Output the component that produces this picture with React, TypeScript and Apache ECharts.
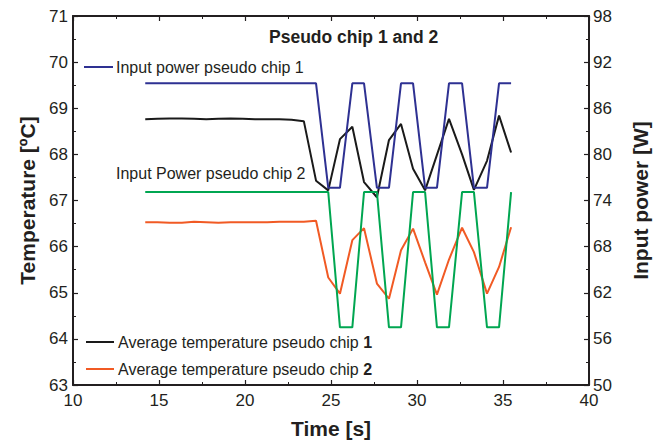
import React, { useEffect, useRef } from "react";
import * as echarts from "echarts";

// Sample times [s]
const times = [
  14.2, 14.91, 15.62, 16.33, 17.04, 17.75, 18.45, 19.16, 19.87, 20.58, 21.29,
  22.0, 22.71, 23.42, 24.13, 24.84, 25.52, 26.24, 26.92, 27.67, 28.37, 29.07,
  29.77, 30.47, 31.16, 31.86, 32.62, 33.31, 34.07, 34.77, 35.47,
];

// Input power [W]
const powerChip1 = [
  89.25, 89.25, 89.25, 89.25, 89.25, 89.25, 89.25, 89.25, 89.25, 89.25, 89.25,
  89.25, 89.25, 89.25, 89.25, 75.65, 75.65, 89.25, 89.25, 75.65, 75.65, 89.25,
  89.25, 75.65, 75.65, 89.25, 89.25, 75.65, 75.65, 89.25, 89.25,
];
const powerChip2 = [
  75.1, 75.1, 75.1, 75.1, 75.1, 75.1, 75.1, 75.1, 75.1, 75.1, 75.1,
  75.1, 75.1, 75.1, 75.1, 75.1, 57.5, 57.5, 75.1, 75.1, 57.5, 57.5,
  75.1, 75.1, 57.5, 57.5, 75.1, 75.1, 57.5, 57.5, 75.1,
];

// Average temperature [ºC]
const tempChip1 = [
  68.76, 68.77, 68.78, 68.78, 68.77, 68.76, 68.77, 68.78, 68.77, 68.76, 68.76,
  68.76, 68.75, 68.72, 67.43, 67.22, 68.33, 68.6, 67.4, 67.07, 68.31, 68.66,
  67.69, 67.22, 67.99, 68.77, 68.0, 67.23, 67.86, 68.84, 68.04,
];
const tempChip2 = [
  66.53, 66.53, 66.52, 66.52, 66.54, 66.53, 66.52, 66.53, 66.53, 66.53, 66.53,
  66.54, 66.54, 66.54, 66.56, 65.33, 64.98, 66.14, 66.4, 65.2, 64.87, 65.92,
  66.39, 65.66, 64.96, 65.72, 66.41, 65.88, 64.98, 65.56, 66.42,
];

const powerTicks = [50, 56, 62, 68, 74, 80, 86, 92, 98];

const FONT = '"Liberation Sans", Arial, Helvetica, sans-serif';
const INK = "#231f20";
const BLUE = "#2e3192";
const GREEN = "#00a651";
const BLACK = "#1a1a1a";
const ORANGE = "#f15a24";

const pairs = (ys: number[]) => times.map((t, i) => [t, ys[i]]);

export default function App() {
  const ref = useRef<HTMLDivElement>(null);
  useEffect(() => {
    document.body.style.margin = "0";
    if (!ref.current) return;
    const chart = echarts.init(ref.current, null, { renderer: "svg" });
    const axisLine = { show: true, lineStyle: { color: INK, width: 2 } };
    const tick = { show: true, inside: true, length: 5, lineStyle: { color: INK, width: 1.2 } };
    const minor = { show: true, splitNumber: 2, length: 3, lineStyle: { color: INK, width: 1 } };
    const labelStyle = { color: INK, fontSize: 17, fontFamily: FONT };
    const nameStyle = { color: INK, fontSize: 21, fontWeight: "bold" as const, fontFamily: FONT };
    chart.setOption({
      animation: false,
      backgroundColor: "#ffffff",
      title: {
        text: "Pseudo chip 1 and 2",
        left: 264,
        top: 23,
        textStyle: { color: INK, fontSize: 17.5, fontWeight: "bold", fontFamily: FONT },
      },
      grid: { left: 73, right: 70, top: 16, bottom: 60, containLabel: false },
      xAxis: [
        {
          type: "value",
          position: "bottom",
          min: 10,
          max: 40,
          interval: 5,
          axisLine,
          axisTick: tick,
          minorTick: minor,
          splitLine: { show: false },
          axisLabel: { ...labelStyle, margin: 7 },
          name: "Time [s]",
          nameLocation: "middle",
          nameGap: 33,
          nameTextStyle: nameStyle,
        },
        {
          type: "value",
          position: "top",
          min: 10,
          max: 40,
          interval: 5,
          axisLine,
          axisTick: tick,
          minorTick: minor,
          splitLine: { show: false },
          axisLabel: { show: false },
        },
      ],
      yAxis: [
        {
          type: "value",
          position: "left",
          min: 63,
          max: 71,
          interval: 1,
          axisLine,
          axisTick: tick,
          minorTick: minor,
          splitLine: { show: false },
          axisLabel: { ...labelStyle, margin: 5 },
          name: "Temperature [ºC]",
          nameLocation: "middle",
          nameRotate: 90,
          nameGap: 34,
          nameTextStyle: nameStyle,
        },
        {
          type: "value",
          position: "right",
          min: 50,
          max: 98,
          axisLine: { show: false },
          axisTick: { show: false },
          splitLine: { show: false },
          axisLabel: { ...labelStyle, margin: 4, customValues: powerTicks },
          name: "Input power [W]",
          nameLocation: "middle",
          nameRotate: 90,
          nameGap: 41,
          nameTextStyle: nameStyle,
        },
        {
          type: "value",
          position: "right",
          min: 63,
          max: 71,
          interval: 1,
          axisLine,
          axisTick: tick,
          minorTick: minor,
          splitLine: { show: false },
          axisLabel: { show: false },
        },
      ],
      graphic: [
        { type: "line", shape: { x1: 84, y1: 67, x2: 113, y2: 67 }, style: { stroke: BLUE, lineWidth: 2 } },
        {
          type: "text",
          x: 116,
          y: 67,
          style: { text: "Input power pseudo chip 1", fill: INK, fontSize: 16, fontFamily: FONT, verticalAlign: "middle" },
        },
        {
          type: "text",
          x: 116,
          y: 173,
          style: { text: "Input Power pseudo chip 2", fill: INK, fontSize: 16, fontFamily: FONT, verticalAlign: "middle" },
        },
        { type: "line", shape: { x1: 86, y1: 342, x2: 114, y2: 342 }, style: { stroke: BLACK, lineWidth: 2 } },
        {
          type: "text",
          x: 118,
          y: 342,
          style: {
            text: "{a|Average temperature pseudo chip }{b|1}",
            verticalAlign: "middle",
            rich: {
              a: { fill: INK, fontSize: 16, fontFamily: FONT },
              b: { fill: INK, fontSize: 16, fontFamily: FONT, fontWeight: "bold" },
            },
          },
        },
        { type: "line", shape: { x1: 86, y1: 369, x2: 114, y2: 369 }, style: { stroke: ORANGE, lineWidth: 2 } },
        {
          type: "text",
          x: 118,
          y: 369,
          style: {
            text: "{a|Average temperature pseudo chip }{b|2}",
            verticalAlign: "middle",
            rich: {
              a: { fill: INK, fontSize: 16, fontFamily: FONT },
              b: { fill: INK, fontSize: 16, fontFamily: FONT, fontWeight: "bold" },
            },
          },
        },
      ],
      series: [
        {
          name: "Average temperature pseudo chip 2",
          type: "line",
          yAxisIndex: 0,
          data: pairs(tempChip2),
          showSymbol: false,
          lineStyle: { color: ORANGE, width: 2 },
          itemStyle: { color: ORANGE },
        },
        {
          name: "Average temperature pseudo chip 1",
          type: "line",
          yAxisIndex: 0,
          data: pairs(tempChip1),
          showSymbol: false,
          lineStyle: { color: BLACK, width: 2 },
          itemStyle: { color: BLACK },
        },
        {
          name: "Input Power pseudo chip 2",
          type: "line",
          yAxisIndex: 1,
          data: pairs(powerChip2),
          showSymbol: false,
          lineStyle: { color: GREEN, width: 2 },
          itemStyle: { color: GREEN },
        },
        {
          name: "Input power pseudo chip 1",
          type: "line",
          yAxisIndex: 1,
          data: pairs(powerChip1),
          showSymbol: false,
          lineStyle: { color: BLUE, width: 2 },
          itemStyle: { color: BLUE },
        },
      ],
    });
    return () => chart.dispose();
  }, []);
  return <div ref={ref} style={{ width: 659, height: 445 }} />;
}
